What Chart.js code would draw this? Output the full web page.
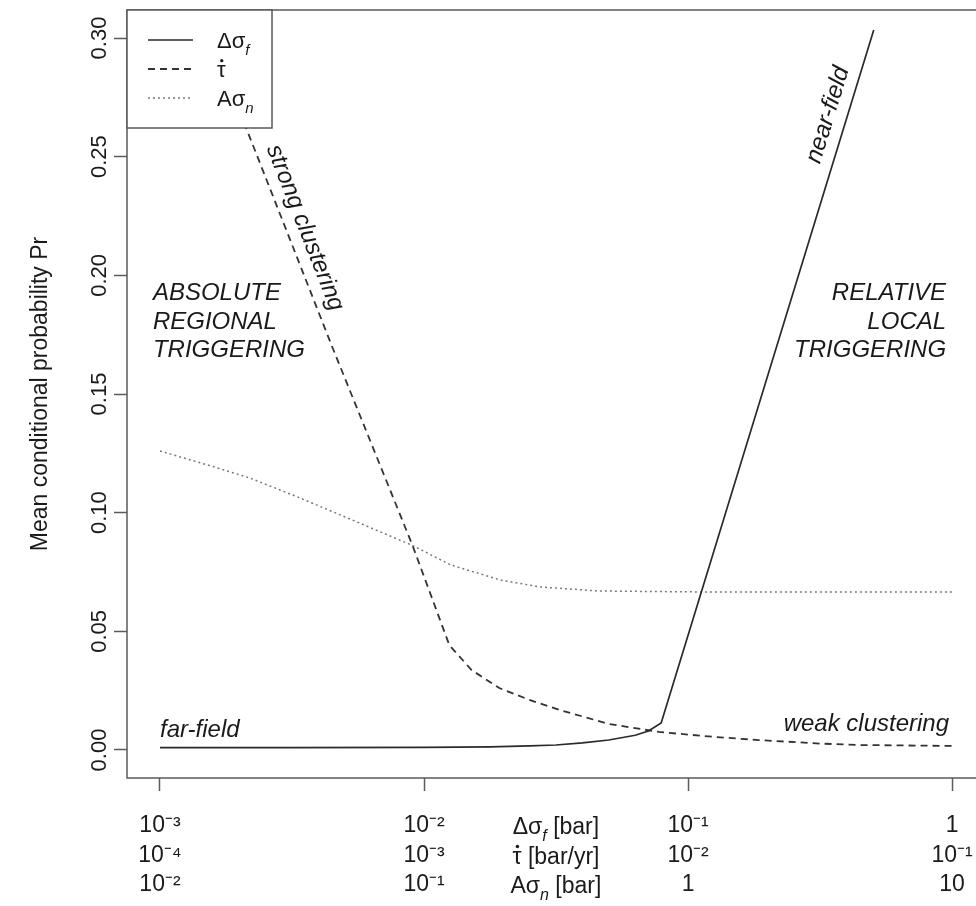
<!DOCTYPE html>
<html>
<head>
<meta charset="utf-8">
<script src="https://cdn.jsdelivr.net/npm/chart.js@4.4.0/dist/chart.umd.min.js"></script>
<style>
  html, body { margin: 0; padding: 0; background: #fff; overflow: hidden; }
  #wrap { position: relative; width: 1000px; height: 906px; }
</style>
</head>
<body>
<div id="wrap"><canvas id="chart" width="1000" height="906"></canvas></div>
<script>
// all curves are plotted against the Δσ_f axis [bar]
const stressX  = [0.001, 0.00316, 0.01, 0.0178, 0.0251, 0.0316, 0.0398, 0.0501, 0.0631, 0.0708, 0.0791, 0.505];
const stressPr = [0.0010, 0.0010, 0.0011, 0.0013, 0.0017, 0.0021, 0.0030, 0.0042, 0.0062, 0.0080, 0.0114, 0.3034];

const rateX  = [0.00200, 0.00221, 0.00447, 0.00906, 0.01247, 0.01514, 0.01928, 0.0251, 0.0325, 0.0501, 0.0776, 0.126, 0.185, 0.316, 0.444, 1.0];
const ratePr = [0.269, 0.257, 0.1704, 0.086, 0.0442, 0.0337, 0.0261, 0.0211, 0.0169, 0.0110, 0.0076, 0.0055, 0.0042, 0.0027, 0.0021, 0.0017];

const normalX  = [0.001, 0.00158, 0.00219, 0.00339, 0.00525, 0.00912, 0.0126, 0.0195, 0.0275, 0.0457, 0.110, 1.0];
const normalPr = [0.126, 0.1195, 0.1146, 0.1062, 0.0973, 0.0860, 0.0780, 0.0716, 0.0687, 0.0670, 0.0666, 0.0666];

const xTicks = [0.001, 0.01, 0.1, 1];
const xTickLabels = [
  ['10⁻³', '10⁻⁴', '10⁻²'],
  ['10⁻²', '10⁻³', '10⁻¹'],
  ['10⁻¹', '10⁻²', '1'],
  ['1', '10⁻¹', '10']
];
const yTicks = [0, 0.05, 0.10, 0.15, 0.20, 0.25, 0.30];

const fontFam = '"Liberation Sans", Arial, Helvetica, sans-serif';
Chart.defaults.font.family = fontFam;
Chart.defaults.color = '#1a1a1a';

const axisColor = '#5a5a5a';
const styles = [
  { color: '#2a2a2a', width: 1.7, dash: [] },
  { color: '#333333', width: 1.8, dash: [7, 5] },
  { color: '#7a7a7a', width: 1.5, dash: [2, 3] }
];

const toPts = (xs, ys) => xs.map((x, i) => ({ x: x, y: ys[i] }));

// text with subscripts / dotted letters: parts = [[text, kind]]
function drawParts(ctx, parts, x, y, align, size) {
  const base = size + 'px ' + fontFam;
  const small = 'italic ' + Math.round(size * 0.68) + 'px ' + fontFam;
  let w = 0;
  parts.forEach(p => { ctx.font = p[1] === 'sub' ? small : base; w += ctx.measureText(p[0]).width; });
  let cx = align === 'center' ? x - w / 2 : (align === 'right' ? x - w : x);
  ctx.textAlign = 'left';
  ctx.textBaseline = 'alphabetic';
  parts.forEach(p => {
    ctx.font = p[1] === 'sub' ? small : base;
    const pw = ctx.measureText(p[0]).width;
    ctx.fillText(p[0], cx, p[1] === 'sub' ? y + size * 0.3 : y);
    if (p[1] === 'dot') {
      ctx.beginPath();
      ctx.arc(cx + pw * 0.55, y - size * 0.74, size * 0.075, 0, Math.PI * 2);
      ctx.fill();
    }
    cx += pw;
  });
}

const seriesLabels = [
  [['Δσ', ''], ['f', 'sub']],
  [['τ', 'dot']],
  [['Aσ', ''], ['n', 'sub']]
];
const axisNames = [
  [['Δσ', ''], ['f', 'sub'], [' [bar]', '']],
  [['τ', 'dot'], [' [bar/yr]', '']],
  [['Aσ', ''], ['n', 'sub'], [' [bar]', '']]
];

const extras = {
  id: 'extras',
  beforeDatasetsDraw(chart) {
    const { ctx, chartArea: a } = chart;
    ctx.save();
    ctx.strokeStyle = axisColor;
    ctx.lineWidth = 1.5;
    ctx.strokeRect(a.left, a.top, a.right - a.left, a.bottom - a.top);
    ctx.restore();
  },
  afterDatasetsDraw(chart) {
    const { ctx, chartArea: a, scales: { x, y } } = chart;
    ctx.save();

    // legend box
    const lw = 145, lh = 118;
    ctx.fillStyle = '#fff';
    ctx.fillRect(a.left, a.top, lw, lh);
    ctx.strokeStyle = axisColor;
    ctx.lineWidth = 1.5;
    ctx.strokeRect(a.left, a.top, lw, lh);
    ctx.fillStyle = '#1a1a1a';
    styles.forEach((s, i) => {
      const ry = a.top + 30 + i * 29;
      ctx.beginPath();
      ctx.strokeStyle = s.color;
      ctx.lineWidth = s.width;
      ctx.setLineDash(s.dash);
      ctx.moveTo(a.left + 21, ry);
      ctx.lineTo(a.left + 66, ry);
      ctx.stroke();
      ctx.setLineDash([]);
      drawParts(ctx, seriesLabels[i], a.left + 90, ry + 8, 'left', 22);
    });

    // middle axis names between the tick labels
    const mx = x.getPixelForValue(0.0316);
    axisNames.forEach((parts, i) => {
      drawParts(ctx, parts, mx, x.top + 56 + i * 29.5, 'center', 23);
    });

    // region annotations
    ctx.font = 'italic 24px ' + fontFam;
    ctx.textBaseline = 'alphabetic';
    const by = y.getPixelForValue(0.1896);
    ctx.textAlign = 'left';
    ['ABSOLUTE', 'REGIONAL', 'TRIGGERING'].forEach((t, i) => ctx.fillText(t, x.getPixelForValue(0.00094), by + i * 28.5));
    ctx.textAlign = 'right';
    ['RELATIVE', 'LOCAL', 'TRIGGERING'].forEach((t, i) => ctx.fillText(t, x.getPixelForValue(0.949), by + i * 28.5));
    ctx.textAlign = 'left';
    ctx.fillText('far-field', x.getPixelForValue(0.001), y.getPixelForValue(0.0055));
    ctx.textAlign = 'right';
    ctx.fillText('weak clustering', x.getPixelForValue(0.974), y.getPixelForValue(0.008));

    // labels running along the steep parts of the curves
    const along = (text, px, py, x0, y0, x1, y1) => {
      const ang = Math.atan2(y.getPixelForValue(y1) - y.getPixelForValue(y0), x.getPixelForValue(x1) - x.getPixelForValue(x0));
      ctx.save();
      ctx.translate(x.getPixelForValue(px), y.getPixelForValue(py));
      ctx.rotate(ang);
      ctx.textAlign = 'center';
      ctx.textBaseline = 'middle';
      ctx.fillText(text, 0, 0);
      ctx.restore();
    };
    along('near-field', 0.339, 0.2676, stressX[10], stressPr[10], stressX[11], stressPr[11]);
    along('strong clustering', 0.00354, 0.2200, rateX[1], ratePr[1], rateX[2], ratePr[2]);
    ctx.restore();
  }
};

new Chart(document.getElementById('chart'), {
  type: 'line',
  data: {
    datasets: [
      { data: toPts(stressX, stressPr) },
      { data: toPts(rateX, ratePr) },
      { data: toPts(normalX, normalPr) }
    ].map((d, i) => Object.assign(d, {
      borderColor: styles[i].color,
      borderWidth: styles[i].width,
      borderDash: styles[i].dash,
      pointRadius: 0,
      tension: 0,
      fill: false
    }))
  },
  options: {
    responsive: false,
    animation: false,
    devicePixelRatio: 1,
    layout: { padding: { left: 0, top: 10, right: 16, bottom: 0 } },
    plugins: { legend: { display: false }, tooltip: { enabled: false } },
    scales: {
      x: {
        type: 'logarithmic',
        min: 0.00075,
        max: 1.321,
        afterFit: s => { s.height = 128; },
        afterBuildTicks: s => { s.ticks = xTicks.map(v => ({ value: v })); },
        border: { display: false },
        grid: { drawOnChartArea: false, tickLength: 13, tickColor: axisColor, tickWidth: 1.5 },
        ticks: {
          padding: 20,
          autoSkip: false,
          maxRotation: 0,
          font: { size: 23, lineHeight: 1.28 },
          color: '#1a1a1a',
          callback: (v, i) => xTickLabels[i]
        }
      },
      y: {
        min: -0.0118,
        max: 0.3118,
        afterFit: s => { s.width = 127; },
        afterBuildTicks: s => { s.ticks = yTicks.map(v => ({ value: v })); },
        border: { display: false },
        grid: { drawOnChartArea: false, tickLength: 13, tickColor: axisColor, tickWidth: 1.5 },
        ticks: {
          padding: -7,
          minRotation: 90,
          maxRotation: 90,
          crossAlign: 'center',
          font: { size: 22 },
          color: '#1a1a1a',
          callback: v => v.toFixed(2)
        },
        title: {
          display: true,
          text: 'Mean conditional probability Pr',
          font: { size: 23 },
          color: '#1a1a1a',
          padding: { top: 27, bottom: 0 }
        }
      }
    }
  },
  plugins: [extras]
});
</script>
</body>
</html>
